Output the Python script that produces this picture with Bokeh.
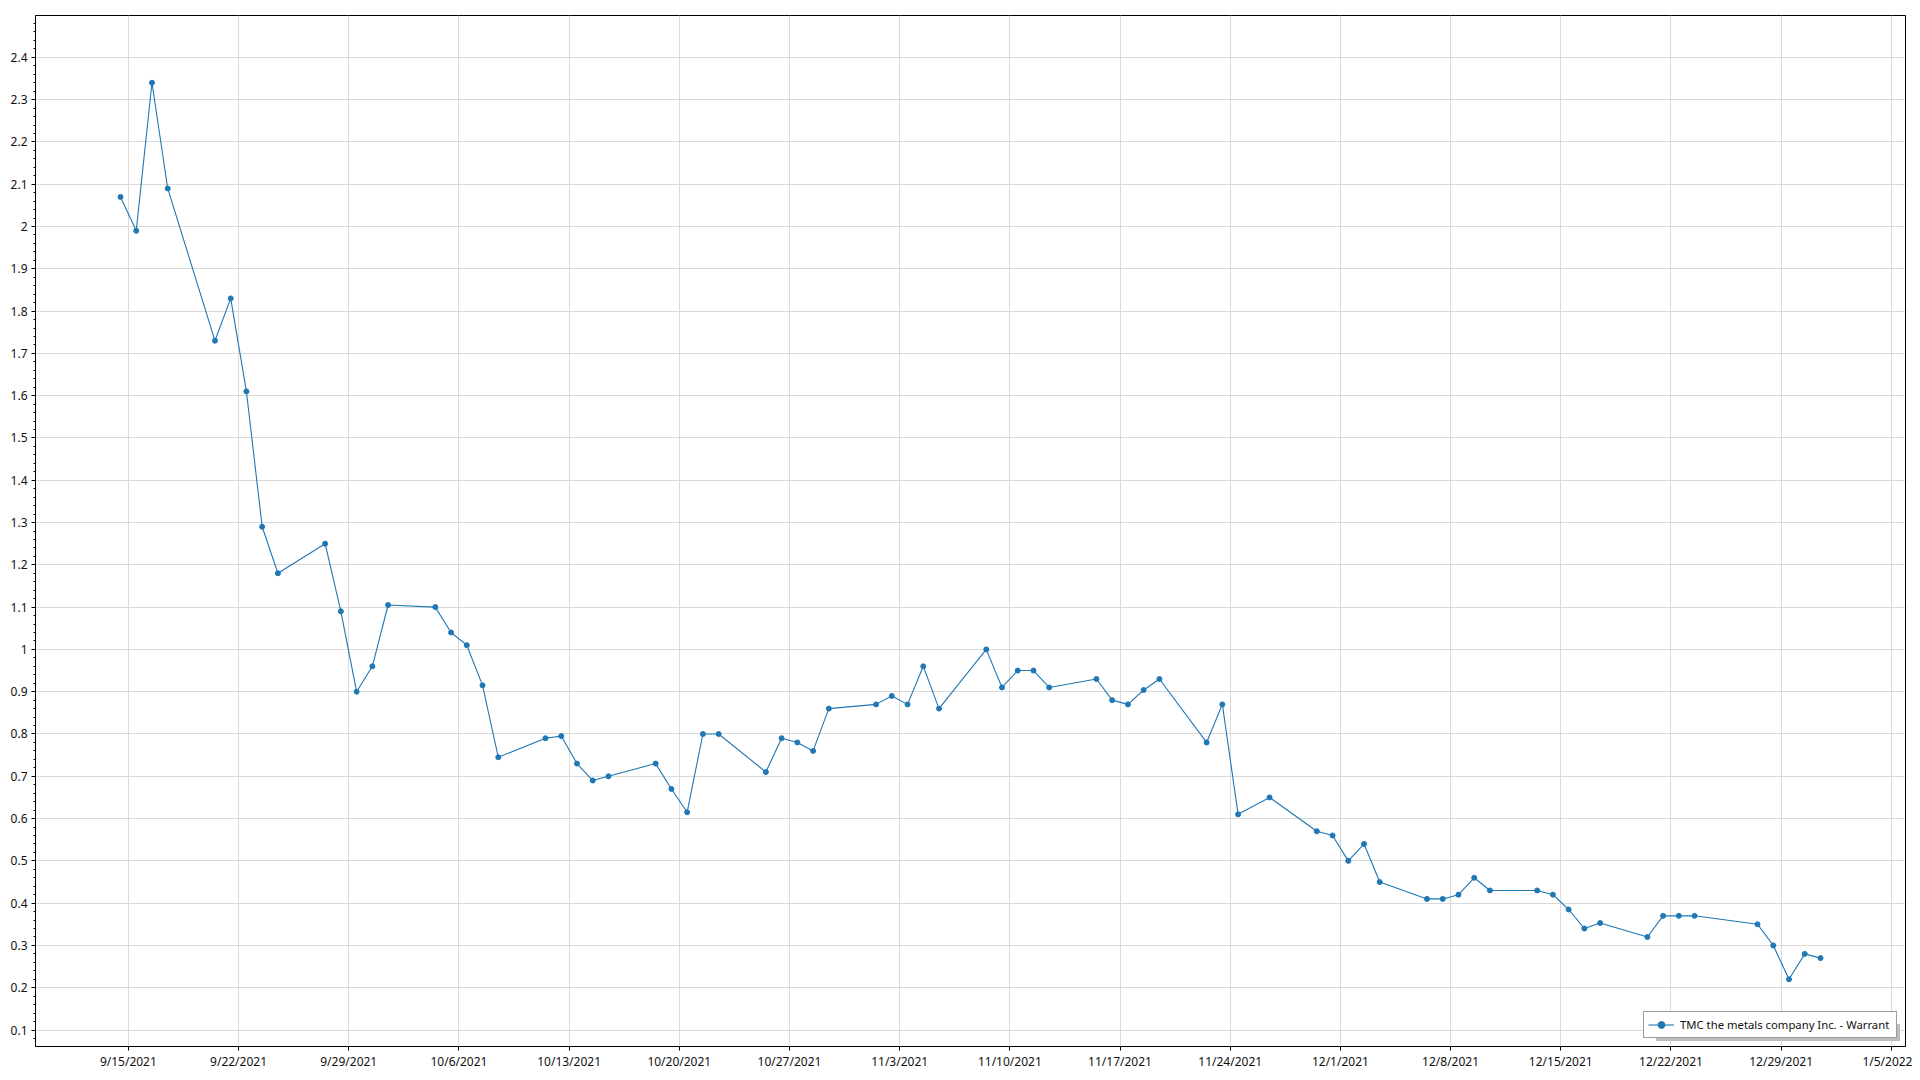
import numpy as np
import pandas as pd
from bokeh.plotting import figure
from bokeh.models import Range1d, FixedTicker, CustomJSTickFormatter, Legend, LegendItem
from bokeh.embed import file_html
from bokeh.resources import INLINE

# ---------------- data ----------------
series_name = "TMC the metals company Inc. - Warrant"

dates = [
    "2021-09-14", "2021-09-15", "2021-09-16", "2021-09-17",
    "2021-09-20", "2021-09-21", "2021-09-22", "2021-09-23", "2021-09-24",
    "2021-09-27", "2021-09-28", "2021-09-29", "2021-09-30", "2021-10-01",
    "2021-10-04", "2021-10-05", "2021-10-06", "2021-10-07", "2021-10-08",
    "2021-10-11", "2021-10-12", "2021-10-13", "2021-10-14", "2021-10-15",
    "2021-10-18", "2021-10-19", "2021-10-20", "2021-10-21", "2021-10-22",
    "2021-10-25", "2021-10-26", "2021-10-27", "2021-10-28", "2021-10-29",
    "2021-11-01", "2021-11-02", "2021-11-03", "2021-11-04", "2021-11-05",
    "2021-11-08", "2021-11-09", "2021-11-10", "2021-11-11", "2021-11-12",
    "2021-11-15", "2021-11-16", "2021-11-17", "2021-11-18", "2021-11-19",
    "2021-11-22", "2021-11-23", "2021-11-24", "2021-11-26",
    "2021-11-29", "2021-11-30", "2021-12-01", "2021-12-02", "2021-12-03",
    "2021-12-06", "2021-12-07", "2021-12-08", "2021-12-09", "2021-12-10",
    "2021-12-13", "2021-12-14", "2021-12-15", "2021-12-16", "2021-12-17",
    "2021-12-20", "2021-12-21", "2021-12-22", "2021-12-23",
    "2021-12-27", "2021-12-28", "2021-12-29", "2021-12-30", "2021-12-31",
]

prices = [
    2.07, 1.99, 2.34, 2.09,
    1.73, 1.83, 1.61, 1.29, 1.18,
    1.25, 1.09, 0.90, 0.96, 1.105,
    1.10, 1.04, 1.01, 0.915, 0.745,
    0.79, 0.795, 0.73, 0.69, 0.70,
    0.73, 0.67, 0.615, 0.80, 0.80,
    0.71, 0.79, 0.78, 0.76, 0.86,
    0.87, 0.89, 0.87, 0.96, 0.86,
    1.00, 0.91, 0.95, 0.95, 0.91,
    0.93, 0.88, 0.87, 0.904, 0.93,
    0.78, 0.87, 0.61, 0.65,
    0.57, 0.56, 0.50, 0.54, 0.45,
    0.41, 0.41, 0.42, 0.46, 0.43,
    0.43, 0.42, 0.385, 0.34, 0.353,
    0.32, 0.37, 0.37, 0.37,
    0.35, 0.30, 0.22, 0.28, 0.27,
]

x_tick_labels = [
    "9/15/2021", "9/22/2021", "9/29/2021", "10/6/2021", "10/13/2021",
    "10/20/2021", "10/27/2021", "11/3/2021", "11/10/2021", "11/17/2021",
    "11/24/2021", "12/1/2021", "12/8/2021", "12/15/2021", "12/22/2021",
    "12/29/2021", "1/5/2022",
]

y_ticks = [0.1, 0.2, 0.3, 0.4, 0.5, 0.6, 0.7, 0.8, 0.9, 1.0, 1.1, 1.2,
           1.3, 1.4, 1.5, 1.6, 1.7, 1.8, 1.9, 2.0, 2.1, 2.2, 2.3, 2.4]

# ---------------- derived ----------------
xs = pd.to_datetime(dates) + pd.Timedelta(hours=12)
x_ms = (xs.astype("int64") // 10**6).astype(float)
x_tick_ms = [float(pd.Timestamp(pd.to_datetime(s, format="%m/%d/%Y")).value // 10**6) for s in x_tick_labels]

x_span = x_ms.max() - x_ms.min()
y_span = max(prices) - min(prices)
x_range = Range1d(x_ms.min() - 0.05 * x_span, x_ms.max() + 0.05 * x_span)
y_range = Range1d(min(prices) - 0.075 * y_span, max(prices) + 0.075 * y_span)

FONT = "Noto Sans"
LINE_COLOR = "#1f77b4"
GRID_COLOR = "#dadada"
TEXT_COLOR = "#111111"

p = figure(
    width=1912, height=1072,
    x_axis_type="datetime",
    x_range=x_range, y_range=y_range,
    output_backend="svg", toolbar_location=None,
    min_border_left=35, min_border_right=7, min_border_top=15, min_border_bottom=22,
    background_fill_color="white", border_fill_color="white",
)

p.outline_line_color = "black"
p.outline_line_width = 1
p.outline_line_alpha = 1

# ---------------- axes ----------------
xticker = FixedTicker(ticks=x_tick_ms)
p.xaxis.ticker = xticker
p.xgrid.ticker = xticker
p.xaxis.formatter = CustomJSTickFormatter(code="""
const d = new Date(tick);
return (d.getUTCMonth() + 1) + "/" + d.getUTCDate() + "/" + d.getUTCFullYear();
""")

minor_y = [round(v, 2) for v in np.arange(0.0, 2.6, 0.02)]
yticker = FixedTicker(ticks=y_ticks, minor_ticks=minor_y)
p.yaxis.ticker = yticker
p.ygrid.ticker = yticker
p.yaxis.formatter = CustomJSTickFormatter(code="return String(Math.round(tick * 10) / 10);")

for ax in (p.xaxis[0], p.yaxis[0]):
    ax.axis_line_color = "black"
    ax.axis_line_width = 1
    ax.major_tick_line_color = "black"
    ax.major_tick_in = 0
    ax.major_tick_out = 4
    ax.major_label_text_font = FONT
    ax.major_label_text_font_size = "12px"
    ax.major_label_text_color = TEXT_COLOR

p.xaxis.minor_tick_line_color = None
p.xaxis.major_label_standoff = 2
p.yaxis.minor_tick_line_color = "black"
p.yaxis.minor_tick_in = 0
p.yaxis.minor_tick_out = 2
p.yaxis.major_label_standoff = 4

p.xgrid.grid_line_color = GRID_COLOR
p.ygrid.grid_line_color = GRID_COLOR
p.xgrid.grid_line_width = 1
p.ygrid.grid_line_width = 1

# ---------------- series ----------------
line_r = p.line(x=x_ms, y=prices, line_color=LINE_COLOR, line_width=1.1)
dot_r = p.scatter(x=x_ms, y=prices, size=5, fill_color=LINE_COLOR, line_color=LINE_COLOR)
ghost_r = p.line(x=x_ms, y=prices, line_alpha=0)

legend_common = dict(
    location="bottom_right", padding=4, spacing=0,
    glyph_width=26, glyph_height=17, label_height=17, label_standoff=6,
    label_width=212,
    label_text_font=FONT, label_text_font_size="11.3px",
)

# drop shadow behind the legend box (same size, offset 3px right/down)
shadow = Legend(
    items=[LegendItem(label=" ", renderers=[ghost_r])],
    margin=5, label_text_alpha=0,
    border_line_color=None, background_fill_color="#bdbdbd", background_fill_alpha=1,
    **legend_common,
)
p.add_layout(shadow)

legend = Legend(
    items=[LegendItem(label=series_name, renderers=[line_r, dot_r])],
    margin=8, label_text_color=TEXT_COLOR,
    border_line_color="#3a3a3a", border_line_width=1.5,
    background_fill_color="white", background_fill_alpha=1,
    **legend_common,
)
p.add_layout(legend)

open("out.html", "w").write(file_html(p, INLINE))
